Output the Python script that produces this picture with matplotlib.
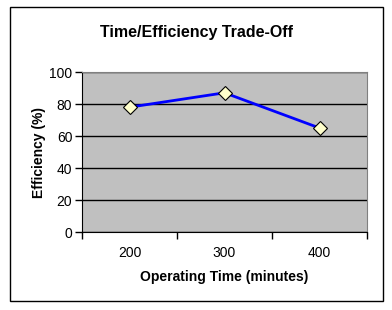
import matplotlib
matplotlib.use("Agg")
import matplotlib.pyplot as plt
from matplotlib.patches import Rectangle

plt.rcParams['font.family'] = ['Liberation Sans', 'DejaVu Sans']

# data
times = ['200', '300', '400']
efficiency = [78, 87, 65]

fig = plt.figure(figsize=(3.92, 3.10), dpi=100)
fig.patch.set_facecolor('white')

# outer chart border
fig.patches.append(Rectangle((10 / 392, 1 - 301 / 310), 373 / 392, 294 / 310,
                             transform=fig.transFigure, fill=False,
                             edgecolor='black', linewidth=1))

ax = fig.add_axes([82 / 392, 1 - 232 / 310, 285 / 392, 160 / 310])
ax.set_facecolor('#C0C0C0')

x = list(range(len(times)))
ax.plot(x, efficiency, color='#0000FF', linewidth=2, marker='D', markersize=7,
        markerfacecolor='#FFFFCC', markeredgecolor='black', markeredgewidth=0.8,
        zorder=3)

ax.set_xlim(-0.5, len(times) - 0.5)
ax.set_ylim(0, 100)
ax.set_yticks(range(0, 101, 20))
ax.yaxis.grid(True, color='black', linewidth=1)
ax.set_axisbelow(True)

# category ticks sit between categories
ax.set_xticks([i - 0.5 for i in range(len(times) + 1)])
ax.set_xticklabels([])
ax.set_xticks(x, minor=True)
ax.set_xticklabels(times, minor=True)
ax.tick_params(axis='x', which='minor', length=0, pad=10, labelsize=10)
ax.tick_params(axis='x', which='major', length=5, width=1, direction='out')
ax.tick_params(axis='y', length=5, width=1, direction='out', labelsize=10, pad=2)

for side in ['top', 'right']:
    ax.spines[side].set_color('#808080')
for side in ['left', 'bottom']:
    ax.spines[side].set_color('black')

ax.set_xlabel('Operating Time (minutes)', fontsize=10, fontweight='bold', labelpad=7)
ax.set_ylabel('Efficiency (%)', fontsize=10, fontweight='bold', labelpad=2)
fig.text(196 / 392, 1 - 32 / 310, 'Time/Efficiency Trade-Off', ha='center', va='center',
         fontsize=11.5, fontweight='bold')

fig.savefig('out.png', dpi=100)
